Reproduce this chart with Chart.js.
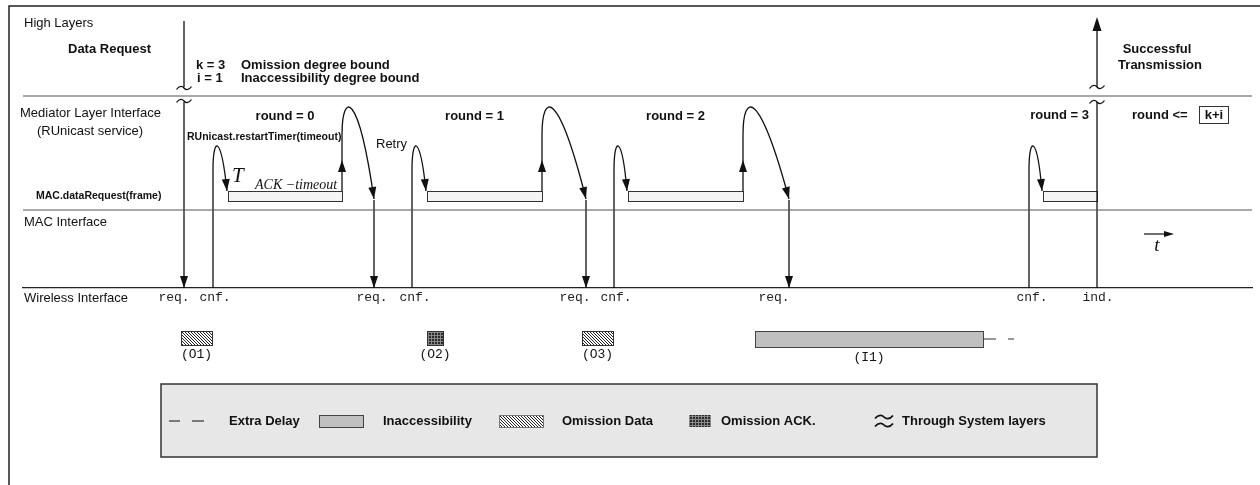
<!DOCTYPE html>
<html>
<head>
<meta charset="utf-8">
<script src="https://cdn.jsdelivr.net/npm/chart.js@4.4.1/dist/chart.umd.min.js"></script>
<style>
  html, body { margin: 0; padding: 0; background: #fff; }
  canvas { display: block; }
</style>
</head>
<body>
<canvas id="myChart" width="1260" height="485"></canvas>
<script>
// event times along the time axis
const reqTimes = [184, 374, 586, 789];
const cnfTimes = [213, 412, 614, 1029];
const indTime = 1097;
const timerStart = [228, 427, 628, 1043];
const timerEnd = [342, 542, 743, 1097];
const roundLabels = ["round = 0", "round = 1", "round = 2", "round = 3"];

// wireless interface labels (x axis ticks)
const wirelessLabels = ["req.", "cnf.", "req.", "cnf.", "req.", "cnf.", "req.", "cnf.", "ind."];
const wirelessTimes = [174, 215, 372, 415, 575, 616, 774, 1032, 1098];

// faults
const omissionLabels = ["(O1)", "(O2)", "(O3)"];
const omissionStart = [181, 427, 582];
const omissionEnd = [212, 443, 613];
const omissionKind = ["data", "ack", "data"];
const inaccessLabel = "(I1)";
const inaccessStart = 755;
const inaccessEnd = 983;

const layerNames = ["High Layers", "Mediator Layer Interface", "MAC Interface", "Wireless Interface"];
const layerLevels = [96, 210, 288];
const legendLabels = ["Extra Delay", "Inaccessibility", "Omission Data", "Omission ACK.", "Through System layers"];

const lv = {
  reqTop: 21, tildeHigh: 87, tildeMed: 102, loopStart: 170, loopTop: 135,
  timerTop: 191, timerBottom: 201, reqStart: 200, upArrow: 160, indTip: 17
};

const sans = '"Liberation Sans", Arial, sans-serif';
const serif = '"Liberation Serif", "Times New Roman", serif';
const mono = '"Liberation Mono", "Courier New", monospace';
const ink = "#111";

function makePattern(kind) {
  const c = document.createElement("canvas");
  c.width = 3;
  c.height = 3;
  const g = c.getContext("2d");
  if (kind === "data") {
    g.fillStyle = "#fff";
    g.fillRect(0, 0, 3, 3);
    g.fillStyle = "#222";
    for (let i = 0; i < 3; i++) g.fillRect(i, i, 1, 1);
  } else {
    g.fillStyle = "#2a2a2a";
    g.fillRect(0, 0, 3, 3);
    g.fillStyle = "#888";
    g.fillRect(2, 0, 1, 3);
    g.fillRect(0, 2, 3, 1);
  }
  return c;
}

const seg = (x1, y1, x2, y2, color = ink, width = 1.3) => ({
  data: [{ x: x1, y: y1 }, { x: x2, y: y2 }],
  showLine: true,
  borderColor: color,
  borderWidth: width,
  pointRadius: 0,
  fill: false
});

const datasets = [
  seg(23, layerLevels[0], 1252, layerLevels[0], "#555", 1.2),
  seg(23, layerLevels[1], 1252, layerLevels[1], "#555", 1.2),
  seg(reqTimes[0], lv.reqTop, reqTimes[0], lv.tildeHigh),
  seg(reqTimes[0], lv.tildeMed, reqTimes[0], layerLevels[2]),
  ...reqTimes.slice(1).map(t => seg(t, lv.reqStart, t, layerLevels[2])),
  ...cnfTimes.map(t => seg(t, layerLevels[2], t, lv.loopStart)),
  ...timerEnd.slice(0, 3).map(t => seg(t, lv.timerTop, t, lv.loopTop)),
  seg(indTime, layerLevels[2], indTime, lv.tildeMed),
  seg(indTime, lv.tildeHigh, indTime, lv.indTip + 4)
];

function arrowHead(ctx, x, y, angle, len = 12, half = 4) {
  ctx.save();
  ctx.translate(x, y);
  ctx.rotate(angle);
  ctx.beginPath();
  ctx.moveTo(0, 0);
  ctx.lineTo(-len, -half);
  ctx.lineTo(-len, half);
  ctx.closePath();
  ctx.fill();
  ctx.restore();
}

function tilde(ctx, x, y, w) {
  const h = w / 2;
  ctx.beginPath();
  ctx.moveTo(x - h, y + 1.5);
  ctx.bezierCurveTo(x - h * 0.6, y - 3, x - h * 0.2, y - 2, x, y);
  ctx.bezierCurveTo(x + h * 0.2, y + 2, x + h * 0.6, y + 3, x + h, y - 1.5);
  ctx.stroke();
}

function text(ctx, str, x, y, font, align = "left") {
  ctx.font = font;
  ctx.textAlign = align;
  ctx.textBaseline = "middle";
  ctx.fillText(str, x, y);
}

function curve(ctx, p0, p1, p2, p3) {
  ctx.beginPath();
  ctx.moveTo(p0[0], p0[1]);
  ctx.bezierCurveTo(p1[0], p1[1], p2[0], p2[1], p3[0], p3[1]);
  ctx.stroke();
  return Math.atan2(p3[1] - p2[1], p3[0] - p2[0]);
}

const diagramPlugin = {
  id: "diagram",
  beforeDatasetsDraw(chart) {
    const { ctx, scales: { x, y } } = chart;
    const px = v => x.getPixelForValue(v);
    const py = v => y.getPixelForValue(v);
    ctx.save();
    ctx.lineWidth = 1;
    ctx.strokeStyle = "#333";

    // outer frame
    ctx.strokeStyle = "#222";
    ctx.lineWidth = 1.5;
    ctx.beginPath();
    ctx.moveTo(px(9), py(485));
    ctx.lineTo(px(9), py(6));
    ctx.lineTo(px(1260), py(6));
    ctx.stroke();

    // ack timers
    ctx.lineWidth = 1;
    ctx.strokeStyle = "#333";
    ctx.fillStyle = "#f4f4f4";
    timerStart.forEach((t, i) => {
      const x0 = px(t), x1 = px(timerEnd[i]);
      ctx.fillRect(x0, py(lv.timerTop), x1 - x0, py(lv.timerBottom) - py(lv.timerTop));
      ctx.strokeRect(x0 + 0.5, py(lv.timerTop) + 0.5, x1 - x0, py(lv.timerBottom) - py(lv.timerTop));
    });

    // faults on the wireless medium
    const patterns = { data: ctx.createPattern(makePattern("data"), "repeat"), ack: ctx.createPattern(makePattern("ack"), "repeat") };
    omissionStart.forEach((t, i) => {
      const x0 = px(t), x1 = px(omissionEnd[i]);
      ctx.fillStyle = patterns[omissionKind[i]];
      ctx.fillRect(x0, py(331), x1 - x0, py(345) - py(331));
      ctx.strokeStyle = "#333";
      ctx.strokeRect(x0 + 0.5, py(331) + 0.5, x1 - x0, py(345) - py(331));
      ctx.fillStyle = ink;
      text(ctx, omissionLabels[i], (x0 + x1) / 2, py(355), `13px ${mono}`, "center");
    });
    ctx.fillStyle = "#c0c0c0";
    ctx.fillRect(px(inaccessStart), py(331), px(inaccessEnd) - px(inaccessStart), py(347) - py(331));
    ctx.strokeStyle = "#444";
    ctx.strokeRect(px(inaccessStart) + 0.5, py(331) + 0.5, px(inaccessEnd) - px(inaccessStart), py(347) - py(331));
    ctx.strokeStyle = "#333";
    ctx.lineWidth = 1.2;
    ctx.beginPath();
    ctx.moveTo(px(inaccessEnd), py(339));
    ctx.lineTo(px(inaccessEnd + 13), py(339));
    ctx.moveTo(px(inaccessEnd + 25), py(339));
    ctx.lineTo(px(inaccessEnd + 31), py(339));
    ctx.stroke();
    ctx.fillStyle = ink;
    text(ctx, inaccessLabel, px(869), py(358), `13px ${mono}`, "center");

    // legend box
    const ly = py(421);
    ctx.fillStyle = "#e7e7e7";
    ctx.fillRect(px(161), py(384), px(1097) - px(161), py(457) - py(384));
    ctx.strokeStyle = "#333";
    ctx.lineWidth = 1.5;
    ctx.strokeRect(px(161), py(384), px(1097) - px(161), py(457) - py(384));
    ctx.strokeStyle = "#555";
    ctx.lineWidth = 1.3;
    ctx.beginPath();
    ctx.moveTo(px(169), ly); ctx.lineTo(px(180), ly);
    ctx.moveTo(px(192), ly); ctx.lineTo(px(204), ly);
    ctx.stroke();
    ctx.fillStyle = ink;
    text(ctx, legendLabels[0], px(229), ly, `bold 13px ${sans}`);
    ctx.fillStyle = "#c0c0c0";
    ctx.fillRect(px(319), py(415), px(363) - px(319), 12);
    ctx.strokeStyle = "#444";
    ctx.lineWidth = 1;
    ctx.strokeRect(px(319) + 0.5, py(415) + 0.5, px(363) - px(319), 12);
    ctx.fillStyle = ink;
    text(ctx, legendLabels[1], px(383), ly, `bold 13px ${sans}`);
    ctx.fillStyle = patterns.data;
    ctx.fillRect(px(499), py(415), px(543) - px(499), 12);
    ctx.strokeStyle = "#777";
    ctx.strokeRect(px(499) + 0.5, py(415) + 0.5, px(543) - px(499), 12);
    ctx.fillStyle = ink;
    text(ctx, legendLabels[2], px(562), ly, `bold 13px ${sans}`);
    ctx.fillStyle = patterns.ack;
    ctx.fillRect(px(689), py(415), px(711) - px(689), 12);
    ctx.fillStyle = ink;
    text(ctx, legendLabels[3], px(721), ly, `bold 13px ${sans}`);
    ctx.strokeStyle = ink;
    ctx.lineWidth = 1.8;
    tilde(ctx, px(884), py(417), 18);
    tilde(ctx, px(884), py(425), 18);
    text(ctx, legendLabels[4], px(902), ly, `bold 13px ${sans}`);
    ctx.restore();
  },
  afterDatasetsDraw(chart) {
    const { ctx, scales: { x, y } } = chart;
    const px = v => x.getPixelForValue(v);
    const py = v => y.getPixelForValue(v);
    ctx.save();
    ctx.strokeStyle = ink;
    ctx.fillStyle = ink;
    ctx.lineWidth = 1.3;

    // cnf -> restart timer loops
    cnfTimes.forEach((c, i) => {
      const ts = timerStart[i];
      const a = curve(ctx,
        [px(c), py(lv.loopStart)], [px(c), py(136)], [px(c + 8), py(134)], [px(ts - 1), py(lv.timerTop)]);
      arrowHead(ctx, px(ts - 1), py(lv.timerTop), a);
    });

    // timeout -> retry loops
    timerEnd.slice(0, 3).forEach((te, i) => {
      const r = reqTimes[i + 1];
      arrowHead(ctx, px(te), py(lv.upArrow), -Math.PI / 2);
      const a = curve(ctx,
        [px(te), py(lv.loopTop)], [px(te), py(92)], [px(te + 16), py(88)], [px(r), py(lv.reqStart - 1)]);
      arrowHead(ctx, px(r), py(lv.reqStart - 1), a);
    });

    // req arrows into the wireless interface
    reqTimes.forEach(r => arrowHead(ctx, px(r), py(layerLevels[2]), Math.PI / 2));
    arrowHead(ctx, px(indTime), py(lv.indTip), -Math.PI / 2, 14, 4.5);

    // through system layers
    tilde(ctx, px(reqTimes[0]), py(lv.tildeHigh + 1), 15);
    tilde(ctx, px(reqTimes[0]), py(lv.tildeMed - 1), 15);
    tilde(ctx, px(indTime), py(lv.tildeHigh), 15);
    tilde(ctx, px(indTime), py(lv.tildeMed), 15);

    // layer names
    text(ctx, layerNames[0], px(24), py(23), `13px ${sans}`);
    text(ctx, layerNames[1], px(20), py(113), `13px ${sans}`);
    text(ctx, "(RUnicast service)", px(37), py(131), `13px ${sans}`);
    text(ctx, layerNames[2], px(24), py(222), `13px ${sans}`);
    text(ctx, layerNames[3], px(24), py(298), `13px ${sans}`);

    // high layer notes
    const b13 = `bold 13px ${sans}`;
    text(ctx, "Data Request", px(68), py(49), b13);
    text(ctx, "k = 3", px(196), py(65), b13);
    text(ctx, "Omission degree bound", px(241), py(65), b13);
    text(ctx, "i = 1", px(197), py(78), b13);
    text(ctx, "Inaccessibility degree bound", px(241), py(78), b13);
    text(ctx, "Successful", px(1157), py(49), b13, "center");
    text(ctx, "Transmission", px(1160), py(65), b13, "center");

    // mediator layer notes
    roundLabels.forEach((lab, i) => {
      if (i < 3) {
        const mid = (timerStart[i] + timerEnd[i]) / 2 - (i ? 10 : 0);
        text(ctx, lab, px(mid), py(116), b13, "center");
      } else {
        text(ctx, lab, px(indTime - 8), py(115), b13, "right");
      }
    });
    text(ctx, "round <=", px(1132), py(115), b13);
    ctx.lineWidth = 1;
    ctx.strokeStyle = "#333";
    ctx.strokeRect(px(1199) + 0.5, py(106) + 0.5, px(1228) - px(1199), py(123) - py(106));
    text(ctx, "k+i", px(1214), py(115), b13, "center");
    text(ctx, "RUnicast.restartTimer(timeout)", px(187), py(137), `bold 10.5px ${sans}`);
    text(ctx, "MAC.dataRequest(frame)", px(36), py(196), `bold 10.5px ${sans}`);
    text(ctx, "Retry", px(376), py(144), `13px ${sans}`);

    ctx.textBaseline = "alphabetic";
    ctx.textAlign = "left";
    ctx.font = `italic 21px ${serif}`;
    ctx.fillText("T", px(232), py(182));
    ctx.font = `italic 14px ${serif}`;
    ctx.fillText("ACK \u2212timeout", px(255), py(189));

    // time arrow
    ctx.lineWidth = 1.2;
    ctx.strokeStyle = ink;
    ctx.beginPath();
    ctx.moveTo(px(1144), py(234));
    ctx.lineTo(px(1166), py(234));
    ctx.stroke();
    arrowHead(ctx, px(1174), py(234), 0, 10, 3);
    text(ctx, "t", px(1157), py(246), `italic 19px ${serif}`, "center");
    ctx.restore();
  }
};

const config = {
  type: "scatter",
  data: { datasets },
  options: {
    responsive: false,
    animation: false,
    events: [],
    layout: { padding: { left: 23, right: 8, top: 0, bottom: 0 } },
    plugins: { legend: { display: false }, tooltip: { enabled: false } },
    scales: {
      x: {
        type: "linear",
        min: 23,
        max: 1252,
        position: { y: layerLevels[2] },
        grid: { display: false, drawTicks: false },
        border: { display: true, color: "#222", width: 1.3 },
        afterBuildTicks: scale => {
          scale.ticks = wirelessTimes.map(v => ({ value: v }));
        },
        ticks: {
          autoSkip: false,
          maxRotation: 0,
          padding: 2,
          color: "#222",
          font: { family: mono, size: 13 },
          callback: (value, index) => wirelessLabels[index]
        }
      },
      y: { type: "linear", min: 0, max: 485, reverse: true, display: false }
    }
  },
  plugins: [diagramPlugin]
};

const canvas = document.getElementById("myChart");
const myChart = new Chart(canvas, config);
</script>
</body>
</html>
